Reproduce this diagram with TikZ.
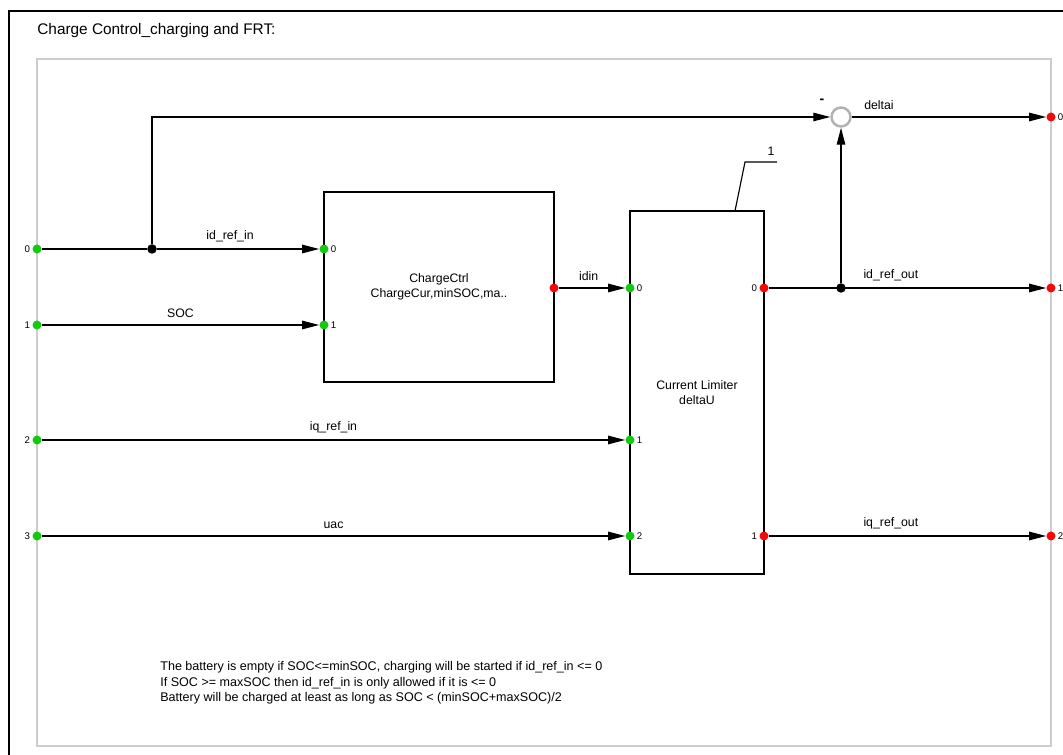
\documentclass[tikz,border=0pt]{standalone}
\usepackage{fontspec}
\setmainfont{Liberation Sans}
\usetikzlibrary{arrows.meta,positioning}
\definecolor{portgreen}{RGB}{20,200,20}
\definecolor{portred}{RGB}{240,10,10}
\definecolor{framegray}{RGB}{205,205,205}
\tikzset{
  inport/.style ={circle, fill=portgreen, minimum size=1.8mm, inner sep=0pt},
  outport/.style={circle, fill=portred, minimum size=1.8mm, inner sep=0pt},
  blk/.style    ={draw, line width=0.6pt, inner sep=0pt, align=center,
                  font=\fontsize{7}{8.4}\selectfont},
  jdot/.style   ={circle, fill=black, minimum size=1.9mm, inner sep=0pt},
  sig/.style    ={-{Triangle[length=3.4mm, width=1.7mm]}, line width=0.65pt},
  wire/.style   ={line width=0.65pt},
  slbl/.style   ={font=\fontsize{7}{8}\selectfont, above=0.2mm},
  pnum/.style   ={font=\fontsize{5.5}{6}\selectfont, inner sep=1pt},
  sumj/.style   ={circle, draw=black!30, line width=1.4pt, fill=white,
                  minimum size=3.8mm, inner sep=0pt},
  note/.style   ={font=\fontsize{7.15}{8.9}\selectfont, align=left, inner sep=0pt},
}

\begin{document}
\begin{tikzpicture}[x=0.2mm, y=-0.2mm]
  \useasboundingbox (0,0) rectangle (1063,755);
  % frames
  \draw[line width=1.2pt] (9,755) -- (9,11) -- (1063,11);
  \draw[framegray, line width=0.8pt] (37,59) rectangle (1051,746);
  \node[font=\fontsize{8.75}{10}\selectfont, anchor=west, inner sep=0pt]
    (title) at (37,31) {Charge Control\_charging and FRT:};

  % blocks
  \node[blk, minimum width=46mm, minimum height=38mm] (chg) at (439,287)
    {ChargeCtrl\\ChargeCur,minSOC,ma..};
  \node[blk, minimum width=26.8mm, minimum height=72.6mm] (lim) at (697,392.5)
    {Current Limiter\\deltaU};
  \node[sumj] (sum) at (841,117) {};
  \node[font=\fontsize{8}{8}\selectfont\bfseries, inner sep=0pt] (minus) at (822,101) {-};

  % outer ports
  \node[inport, label={[pnum]left:0}] (in0) at (37,249) {};
  \node[inport, label={[pnum]left:1}] (in1) at (37,325) {};
  \node[inport, label={[pnum]left:2}] (in2) at (37,440) {};
  \node[inport, label={[pnum]left:3}] (in3) at (37,536) {};
  \node[outport, label={[pnum]right:0}] (out0) at (1051,117) {};
  \node[outport, label={[pnum]right:1}] (out1) at (1051,288) {};
  \node[outport, label={[pnum]right:2}] (out2) at (1051,536) {};

  % block ports
  \node[inport, label={[pnum]right:0}] (ci0) at (324,249) {};
  \node[inport, label={[pnum]right:1}] (ci1) at (324,325) {};
  \node[outport] (co0) at (554,288) {};
  \node[inport, label={[pnum]right:0}] (li0) at (630,288) {};
  \node[inport, label={[pnum]right:1}] (li1) at (630,440) {};
  \node[inport, label={[pnum]right:2}] (li2) at (630,536) {};
  \node[outport, label={[pnum]left:0}] (lo0) at (764,288) {};
  \node[outport, label={[pnum]left:1}] (lo1) at (764,536) {};

  % junctions
  \node[jdot] (j1) at (152,249) {};
  \node[jdot] (j2) at (841,288) {};

  % signals
  \draw[wire] (in0) -- (j1);
  \draw[sig] (j1) -- (ci0) node[slbl, pos=0.45] {id\_ref\_in};
  \draw[sig] (j1) |- (sum);
  \draw[sig] (in1) -- (ci1) node[slbl, pos=0.5] {SOC};
  \draw[sig] (in2) -- (li1) node[slbl, pos=0.5] {iq\_ref\_in};
  \draw[sig] (in3) -- (li2) node[slbl, pos=0.5] {uac};
  \draw[sig] (co0) -- (li0) node[slbl, pos=0.45] {idin};
  \draw[sig] (lo0) -- (out1) node[slbl, pos=0.44] {id\_ref\_out};
  \draw[sig] (j2) -- (sum);
  \draw[sig] (sum) -- (out0) node[slbl, pos=0.14] {deltai};
  \draw[sig] (lo1) -- (out2) node[slbl, pos=0.44] {iq\_ref\_out};

  % leader
  \coordinate (lk0) at (735,211);
  \coordinate (lk1) at (745,162);
  \coordinate (lk2) at (777,162);
  \draw[wire] (lk0) -- (lk1) -- (lk2);
  \node[font=\fontsize{7}{8}\selectfont, inner sep=0pt] (lnum) at (771,151) {1};

  % notes
  \node[note, anchor=north west] (notes) at (160,661)
    {The battery is empty if SOC<=minSOC, charging will be started if id\_ref\_in <= 0\\
     If SOC >= maxSOC then id\_ref\_in is only allowed if it is <= 0\\
     Battery will be charged at least as long as SOC < (minSOC+maxSOC)/2};
\end{tikzpicture}
\end{document}
